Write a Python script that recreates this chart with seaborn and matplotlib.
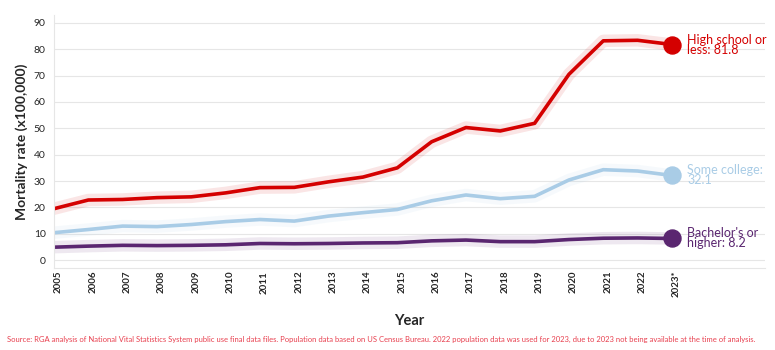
import pandas as pd
import matplotlib
matplotlib.use('Agg')
import matplotlib.pyplot as plt
import seaborn as sns

# dados
anos = ['2005', '2006', '2007', '2008', '2009', '2010', '2011', '2012', '2013', '2014',
        '2015', '2016', '2017', '2018', '2019', '2020', '2021', '2022', '2023*']
ensino_medio = [19.5, 22.8, 23.0, 23.7, 24.0, 25.5, 27.5, 27.6, 29.7, 31.5,
                35.0, 44.9, 50.3, 49.0, 51.9, 70.5, 83.2, 83.4, 81.8]
alguma_faculdade = [10.4, 11.6, 12.9, 12.7, 13.5, 14.6, 15.4, 14.8, 16.7, 18.0,
                    19.2, 22.5, 24.7, 23.3, 24.2, 30.4, 34.3, 33.8, 32.1]
bacharelado = [4.9, 5.3, 5.6, 5.5, 5.6, 5.8, 6.3, 6.2, 6.3, 6.5,
               6.6, 7.3, 7.6, 7.0, 7.0, 7.8, 8.3, 8.4, 8.2]
rotulos = ['High school or\nless: 81.8', 'Some college:\n32.1', "Bachelor's or\nhigher: 8.2"]
cores = ['#D40000', '#A9CCE6', '#5A2670']

sns.set_style('white')
plt.rcParams['font.family'] = ['Lato', 'DejaVu Sans']

dados = pd.DataFrame({'Ano': anos * 3,
                      'Taxa': ensino_medio + alguma_faculdade + bacharelado,
                      'Grupo': [rotulos[0]] * 19 + [rotulos[1]] * 19 + [rotulos[2]] * 19})
dados['x'] = list(range(19)) * 3

fig = plt.figure(figsize=(7.75, 3.5), dpi=100)
ax = fig.add_axes([54 / 775, 1 - 268 / 350, (765 - 54) / 775, (268 - 15) / 350])

for grupo, cor in zip(rotulos, cores):
    d = dados[dados['Grupo'] == grupo]
    # brilho suave em volta da linha
    sns.lineplot(data=d, x='x', y='Taxa', color=cor, linewidth=9, alpha=0.1, ax=ax,
                 solid_capstyle='round')
    sns.lineplot(data=d, x='x', y='Taxa', color=cor, linewidth=2.6, ax=ax)
    ult = d.iloc[-1]
    ax.scatter([ult['x']], [ult['Taxa']], s=150, color=cor, zorder=5)
    ax.text(ult['x'] + 0.45, ult['Taxa'], grupo, color=cor, fontsize=9,
            va='center', ha='left', linespacing=0.8)

ax.set_xlim(0, (765 - 54) / 34.33)
ax.set_ylim(-3, 93)
ax.set_yticks(range(0, 91, 10))
ax.set_xticks(range(19))
ax.set_xticklabels(anos, rotation=90, ha='left', fontsize=7, fontweight='bold')
ax.tick_params(axis='x', length=27, color='#eeeeee', width=1, pad=-25)
ax.tick_params(axis='y', length=0, labelsize=7.5, pad=6)
for lbl in ax.get_xticklabels():
    lbl.set_va('top')
ax.grid(axis='y', color='#e6e6e6', linewidth=0.8)
for s in ['top', 'right']:
    ax.spines[s].set_visible(False)
ax.spines['left'].set_color('#e6e6e6')
ax.spines['bottom'].set_color('#e6e6e6')
ax.set_xlabel('Year', fontsize=10.5, labelpad=12, fontweight='bold')
ax.set_ylabel('Mortality rate (x100,000)', fontsize=10, fontweight='bold')

fig.text(7 / 775, 1 - 339 / 350,
         'Source: RGA analysis of National Vital Statistics System public use final data files. '
         'Population data based on US Census Bureau. 2022 population data was used for 2023, '
         'due to 2023 not being available at the time of analysis.',
         color='#E8404F', fontsize=5.5, va='center')

plt.savefig('out.png', dpi=100)
